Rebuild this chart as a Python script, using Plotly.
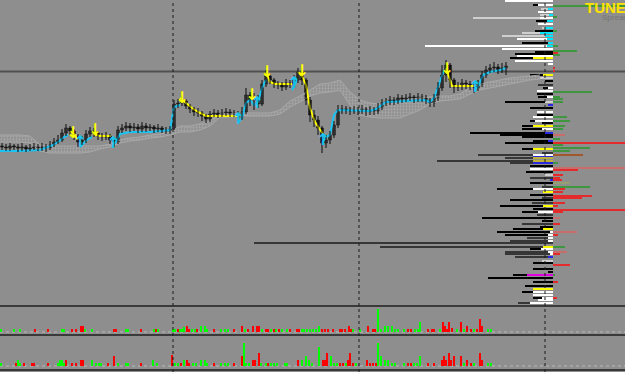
import plotly.graph_objects as go

W, H = 625, 372
BG = "#8e8e8e"

# ---------------- price candles (time index = chart position) ----------------
bar_t = list(range(2, 507, 4))
close = [853, 852, 854, 853, 852, 853, 851, 852, 853, 852,
         853, 852, 855, 858, 860, 867, 872, 869, 864, 858,
         860, 866, 869, 867, 864, 863, 864, 860, 858, 870,
         872, 874, 872, 873, 871, 874, 872, 873, 871, 872,
         870, 869, 871, 896, 897, 899, 894, 891, 888, 887,
         884, 881, 886, 887, 885, 887, 888, 886, 887, 883,
         888, 905, 900, 902, 896, 916, 924, 920, 916, 915,
         913, 917, 916, 920, 928, 920, 900, 885, 880, 872,
         857, 860, 865, 875, 890, 891, 890, 889, 890, 889,
         891, 888, 890, 889, 893, 897, 898, 900, 899, 902,
         901, 902, 903, 901, 903, 902, 900, 897, 902, 912,
         925, 935, 920, 913, 914, 917, 916, 914, 912, 916,
         925, 930, 932, 933, 930, 932, 934]
high = [857, 856, 857, 856, 856, 857, 855, 856, 857, 856,
        857, 856, 859, 862, 865, 871, 876, 874, 871, 866,
        864, 870, 873, 872, 869, 867, 868, 866, 863, 874,
        876, 878, 877, 877, 876, 878, 877, 876, 875, 876,
        874, 873, 874, 900, 901, 904, 901, 896, 893, 892,
        889, 886, 889, 891, 890, 891, 892, 891, 890, 889,
        893, 912, 908, 907, 905, 920, 930, 927, 922, 919,
        918, 921, 920, 925, 932, 930, 922, 903, 890, 884,
        874, 865, 869, 879, 895, 895, 894, 893, 894, 893,
        895, 893, 894, 893, 897, 901, 902, 904, 903, 906,
        905, 906, 907, 905, 907, 906, 905, 902, 906, 918,
        935, 940, 937, 922, 918, 921, 920, 919, 917, 920,
        929, 934, 936, 938, 936, 937, 938]
low = [850, 849, 849, 850, 848, 849, 848, 849, 850, 849,
       849, 848, 850, 853, 856, 858, 864, 865, 860, 853,
       855, 857, 863, 863, 860, 859, 860, 856, 853, 856,
       867, 869, 868, 869, 867, 868, 868, 869, 867, 868,
       867, 866, 866, 870, 892, 894, 891, 887, 884, 883,
       879, 877, 878, 883, 882, 883, 884, 883, 883, 878,
       880, 886, 894, 890, 892, 894, 913, 916, 912, 911,
       909, 910, 912, 913, 917, 915, 895, 878, 873, 865,
       847, 852, 856, 862, 872, 886, 886, 885, 886, 885,
       886, 884, 885, 885, 886, 890, 894, 895, 895, 896,
       897, 898, 899, 897, 898, 898, 896, 893, 893, 899,
       909, 918, 912, 907, 909, 910, 911, 910, 907, 909,
       913, 922, 927, 928, 926, 927, 925]
open_ = [854] + close[:-1]

# ---------------- cloud ----------------
cloud_t = list(range(0, 541, 10))
span_a = [865, 865, 865, 864, 855, 854, 854, 854, 854, 854,
          854, 856, 860, 862, 863, 865, 866, 868, 874, 874,
          876, 879, 886, 886, 887, 887, 887, 887, 890, 899,
          904, 910, 916, 917, 920, 908, 900, 897, 896, 896,
          897, 901, 902, 903, 904, 904, 906, 912, 916, 918,
          920, 922, 923, 924, 925]
span_b = [858, 858, 858, 857, 849, 847, 847, 847, 847, 848,
          851, 853, 857, 859, 860, 862, 863, 865, 868, 868,
          870, 874, 883, 883, 884, 884, 884, 884, 886, 893,
          898, 904, 907, 908, 910, 895, 885, 883, 882, 882,
          882, 886, 890, 896, 899, 900, 901, 906, 910, 912,
          914, 916, 918, 920, 921]

# ---------------- trend line segments (None splits segments) ----------------
cyan_t = [0, 20, 40, 47, 53, 58, 64, 68, None,
          80, 84, 88, 92, None,
          112, 116, 120, 130, 150, 165, 170, 174, 180, None,
          238, 242, 246, 250, 254, 258, 262, 266, None,
          292, 297, None,
          322, 326, 330, 334, 338, 370, 376, 386, 425, 430, 434, 440, 444, None,
          475, 479, 483, 490, 500, 506]
cyan_p = [849, 849, 850, 853, 855, 858, 863, 865, None,
          853, 857, 861, 863, None,
          853, 858, 866, 868, 868, 869, 870, 893, 895, None,
          877, 882, 897, 900, 895, 898, 912, 920, None,
          910, 920, None,
          857, 863, 865, 885, 890, 889, 891, 898, 900, 898, 902, 920, 930, None,
          910, 915, 925, 928, 930, 932]
yel_t = [70, 74, 78, None,
         93, 100, 111, None,
         180, 186, 192, 198, 206, 238, None,
         266, 270, 275, 292, None,
         298, 302, 306, 310, 315, 320, 323, None,
         446, 449, 452, 475]
yel_p = [869, 866, 860, None,
         866, 864, 864, None,
         902, 897, 892, 888, 884, 884, None,
         928, 918, 916, 916, None,
         928, 924, 915, 892, 878, 870, 866, None,
         932, 922, 914, 914]

# ---------------- signal arrows ----------------
dn_t = [73, 95, 182, 252, 267, 302, 447]
dn_p = [866, 869, 901, 904, 927, 928, 930]
up_t = [80, 113, 238, 257, 294, 323, 475]
up_p = [857, 856, 880, 896, 916, 859, 912]

session_t = [173, 359, 545]
bid_price = 928.5

# ---------------- market profile ----------------
prof_price = [999, 995, 991, 988, 985, 982, 979, 976, 972, 969,
              967, 964, 961, 957, 954, 951, 948, 946, 944, 942,
              939, 936, 925, 922, 919, 915, 912, 909, 906, 903,
              898, 895, 892, 888, 885, 883, 879, 877, 874, 871,
              867, 865, 863, 859, 857, 851, 847, 845, 843, 842,
              839, 837, 834, 831, 828, 825, 822, 820, 817, 813,
              811, 808, 805, 802, 800, 797, 794, 791, 788, 785,
              782, 779, 776, 773, 771, 768, 765, 762, 759, 757,
              753, 751, 748, 746, 743, 739, 737, 731, 728, 725,
              722, 718, 714, 711, 708, 705, 702, 700, 697]
prof_vol = [48, 20, 12, 15, 13, 80, 17, 15, 11, 18,
            31, 51, 36, 31, 128, 51, 18, 38, 36, 43,
            38, 5, 23, 13, 8, 15, 10, 16, 16, 15,
            48, 5, 23, 16, 16, 20, 23, 11, 31, 31,
            83, 53, 31, 20, 48, 31, 11, 75, 20, 48,
            116, 43, 23, 23, 27, 8, 23, 3, 23, 11,
            56, 10, 23, 11, 43, 21, 53, 20, 31, 16,
            71, 11, 31, 13, 40, 56, 48, 26, 43, 299,
            173, 23, 48, 48, 38, 11, 20, 20, 5, 40,
            65, 20, 28, 20, 31, 20, 20, 15, 35]
prof_col = list("WKLWLLKWLK" "LLWKWWKKWK" "WWKLKDKWKK" "KBKWKWKKKK" "KKKKKKDDBD"
                "DDKWKLDBKD" "KYKDKDKKKD" "KKDKKKKDDD" "DKDDDLKKKK" "KKKYKWKWD")
prof_in = [0, 15, 5, 0, 4, 13, 6, 0, 8, 0,
           13, 8, 6, 5, 6, 0, 0, 0, 0, 20,
           0, 0, 10, 0, 0, 0, 5, 0, 0, 6,
           8, 0, 0, 0, 0, 0, 18, 0, 20, 11,
           8, 0, 0, 5, 0, 20, 0, 20, 0, 20,
           20, 20, 0, 0, 0, 0, 0, 0, 0, 0,
           20, 0, 0, 0, 0, 0, 10, 0, 15, 0,
           0, 0, 0, 0, 10, 3, 5, 5, 5, 0,
           10, 12, 5, 3, 5, 0, 0, 0, 0, 26,
           0, 0, 0, 0, 20, 0, 11, 0, 23]
prof_incol = list("WWCWCWCWCW" "CCCCCWWWWY" "WWYWWWWWWW" "LWWWWWWWYW" "BWWBWYWWWO"
                  "OBWWWWWWWW" "WWWWWWYWWW" "WWWWYWWWWW" "YWWWBWWWWM" "WWWWWWWWW")

delta_price = [994, 983, 969, 954, 949, 947, 945, 932, 929, 908,
               903, 901, 898, 883, 879, 874, 871, 865, 861, 857,
               855, 852, 849, 845, 837, 832, 830, 825, 822, 820,
               817, 813, 811, 808, 804, 802, 797, 794, 790, 788,
               782, 776, 768, 765, 753, 748, 746, 735, 725, 718,
               702]
delta_len = [72, 4, 4, 5, 24, 5, 7, 2, 2, 39,
             7, 10, 10, 14, 17, 12, 10, 12, 7, 72,
             10, 37, 17, 30, 5, 72, 25, 10, 7, 9,
             17, 37, 12, 10, 39, 29, 12, 5, 72, 10,
             7, 7, 24, 5, 12, 14, 7, 17, 2, 5,
             4]
delta_col = list("GGGGGRGRRG" "GGGGGGGPGR" "GGGNGPRRRR" "QGRRRRRRRR" "PRPRGPRRGR" "R")

# ---------------- volume panels ----------------
vol1_t = [1, 14, 20, 35, 48, 62, 64, 72, 76, 81, 83, 85, 92, 114, 116, 126, 128, 141, 154, 156, 158,
          173, 175, 178, 180, 182, 184, 187, 189, 192, 195, 197, 201, 205, 207, 214, 221, 225, 228, 234,
          242, 245, 248, 253, 257, 259, 262, 266, 268, 271, 274, 276, 279, 282, 287, 290, 297, 299,
          302, 304, 307, 310, 313, 316, 319, 322, 325, 328, 333, 340, 342, 345, 349, 351, 353, 360,
          368, 373, 375, 378, 381, 385, 388, 392, 395, 398, 404, 408, 411, 415, 418, 420, 428, 432, 434,
          440, 443, 445, 447, 449, 452, 457, 461, 464, 467, 471, 474, 477, 480, 482, 488, 491]
vol1_h = [3, 3, 3, 3, 3, 3, 3, 3, 3, 6, 6, 3, 3, 3, 3, 3, 3, 3, 3, 3, 3,
          3, 3, 3, 3, 3, 5, 6, 3, 3, 3, 3, 6, 6, 3, 3, 3, 3, 3, 3,
          6, 3, 3, 6, 6, 6, 3, 3, 3, 3, 3, 3, 3, 3, 3, 3, 3, 3,
          3, 3, 3, 3, 3, 3, 6, 3, 3, 3, 3, 3, 3, 3, 6, 3, 3, 3,
          6, 3, 3, 23, 3, 6, 6, 6, 3, 3, 3, 3, 3, 3, 3, 10, 3, 3, 3,
          3, 10, 6, 3, 10, 4, 3, 10, 3, 6, 3, 3, 3, 13, 6, 3, 3]
vol1_d = list("gggrrggrrrrggrrggrgrg" "ggrgggrrggrgggrgggr" "rgrrrrgrrgrgrggrrr"
              "gggggggrrrrrrrrrgg" "rrrggggggggrrgggrrr" "grrrrrgrgrrgrrrgg")

vol2_t = [1, 16, 18, 20, 24, 32, 34, 48, 58, 60, 62, 64, 66, 72, 76, 81, 83, 92, 96, 99, 101, 108, 114, 118, 126, 128, 141, 153, 157,
          172, 175, 178, 181, 184, 187, 189, 193, 196, 201, 205, 207, 214, 221, 225, 228, 234,
          242, 244, 246, 249, 253, 255, 259, 261, 266, 268, 271, 274, 277, 285, 287, 298,
          302, 306, 309, 312, 319, 323, 325, 327, 331, 334, 337, 340, 343, 346, 348, 350, 353, 356,
          367, 370, 373, 376, 378, 381, 385, 388, 392, 395, 404, 408, 411, 414, 417, 420, 428, 434,
          442, 444, 446, 449, 451, 454, 461, 464, 467, 471, 474, 480, 482, 488, 491]
vol2_h = [3, 3, 6, 3, 3, 3, 3, 3, 3, 6, 6, 3, 6, 3, 3, 6, 6, 6, 3, 3, 3, 3, 10, 3, 3, 3, 3, 6, 3,
          11, 3, 3, 3, 6, 6, 3, 3, 3, 6, 6, 3, 3, 3, 3, 3, 3,
          10, 23, 3, 3, 6, 6, 13, 3, 3, 3, 3, 3, 3, 3, 3, 6,
          6, 10, 6, 3, 19, 6, 6, 13, 10, 3, 3, 3, 3, 3, 6, 13, 3, 3,
          6, 3, 3, 3, 23, 10, 6, 6, 3, 3, 3, 3, 3, 3, 3, 10, 3, 3,
          6, 10, 6, 13, 6, 10, 10, 3, 6, 3, 3, 13, 6, 3, 3]
vol2_d = list("grggrrrrggggrrrrrggggrrgggrgg" "rggrgrrgggggrgggr" "rgggrrrggrgggggr"
              "gggggrrrgggrrgrrrg" "rrrrgggggggrrgggrr" "rrrrrrrgrrgrrgg")

for a, b in [(close, high), (close, low), (close, bar_t), (span_a, cloud_t), (span_b, cloud_t),
             (prof_price, prof_vol), (prof_price, prof_col), (prof_price, prof_in), (prof_price, prof_incol),
             (delta_price, delta_len), (delta_price, delta_col), (vol1_t, vol1_h), (vol1_t, vol1_d),
             (vol2_t, vol2_h), (vol2_t, vol2_d), (cyan_t, cyan_p), (yel_t, yel_p)]:
    assert len(a) == len(b), (len(a), len(b))

# ---------------- styles ----------------
PROFILE_X = 553
PCOL = {"K": "#000000", "D": "#363636", "L": "#cfcfcf", "W": "#ffffff", "C": "#00e6ff",
        "Y": "#ffff00", "B": "#2828e0", "O": "#beb034", "M": "#e000e0"}
DCOL = {"G": "#3e963e", "R": "#e42a2a", "P": "#c86c6c", "N": "#a0582c", "Q": "#94a070"}
VCOL = {"g": "#00ff00", "r": "#ff0000"}

fig = go.Figure()

# cloud
fig.add_trace(go.Scatter(x=cloud_t, y=span_b, mode="lines", line=dict(color="#a8a8a8", width=1),
                         xaxis="x", yaxis="y", hoverinfo="skip"))
fig.add_trace(go.Scatter(x=cloud_t, y=span_a, mode="lines", line=dict(color="#a8a8a8", width=1),
                         fill="tonexty", fillcolor="rgba(0,0,0,0)",
                         fillpattern=dict(shape=".", fgcolor="#bdbdbd", bgcolor="rgba(0,0,0,0)",
                                          size=3, solidity=0.45),
                         xaxis="x", yaxis="y", hoverinfo="skip"))

# trend lines (under the candles)
fig.add_trace(go.Scatter(x=cyan_t, y=cyan_p, mode="lines", line=dict(color="#19c4f2", width=2),
                         connectgaps=False, xaxis="x", yaxis="y", hoverinfo="skip"))
fig.add_trace(go.Scatter(x=yel_t, y=yel_p, mode="lines", line=dict(color="#ffff00", width=2),
                         connectgaps=False, xaxis="x", yaxis="y", hoverinfo="skip"))

# candle wicks
wick_x, wick_y = [], []
for t, h, l in zip(bar_t, high, low):
    wick_x += [t, t, None]
    wick_y += [l, h, None]
fig.add_trace(go.Scatter(x=wick_x, y=wick_y, mode="lines", line=dict(color="#0a0a0a", width=1),
                         connectgaps=False, xaxis="x", yaxis="y", hoverinfo="skip"))
# candle bodies
body_base = [min(o, c) for o, c in zip(open_, close)]
body_len = [max(abs(c - o), 1) for o, c in zip(open_, close)]
body_col = ["#505050" if c >= o else "#1e1e1e" for o, c in zip(open_, close)]
fig.add_trace(go.Bar(x=bar_t, y=body_len, base=body_base, width=3,
                     marker=dict(color=body_col, line=dict(color="#101010", width=0.5)),
                     xaxis="x", yaxis="y", hoverinfo="skip"))

# arrows
fig.add_trace(go.Scatter(x=dn_t, y=dn_p, mode="text", text=["↓"] * len(dn_t),
                         textfont=dict(color="#ffff00", size=16, family="DejaVu Sans", weight="bold"),
                         xaxis="x", yaxis="y", hoverinfo="skip"))
fig.add_trace(go.Scatter(x=up_t, y=up_p, mode="text", text=["↑"] * len(up_t),
                         textfont=dict(color="#19c4f2", size=16, family="DejaVu Sans", weight="bold"),
                         xaxis="x", yaxis="y", hoverinfo="skip"))

# profile: outer, inner, delta
fig.add_trace(go.Bar(orientation="h", y=prof_price, x=prof_vol,
                     base=[PROFILE_X - v for v in prof_vol], width=2,
                     marker=dict(color=[PCOL[c] for c in prof_col], line=dict(width=0)),
                     xaxis="x", yaxis="y", hoverinfo="skip"))
fig.add_trace(go.Bar(orientation="h", y=prof_price, x=prof_in,
                     base=[PROFILE_X - v for v in prof_in], width=2,
                     marker=dict(color=[PCOL[c] for c in prof_incol], line=dict(width=0)),
                     xaxis="x", yaxis="y", hoverinfo="skip"))
fig.add_trace(go.Bar(orientation="h", y=delta_price, x=delta_len, base=PROFILE_X, width=2,
                     marker=dict(color=[DCOL[c] for c in delta_col], line=dict(width=0)),
                     xaxis="x", yaxis="y", hoverinfo="skip"))

# volumes
fig.add_trace(go.Bar(x=vol1_t, y=vol1_h, width=2.5,
                     marker=dict(color=[VCOL[c] for c in vol1_d], line=dict(width=0)),
                     xaxis="x2", yaxis="y2", hoverinfo="skip"))
fig.add_trace(go.Bar(x=vol2_t, y=vol2_h, width=2.5,
                     marker=dict(color=[VCOL[c] for c in vol2_d], line=dict(width=0)),
                     xaxis="x3", yaxis="y3", hoverinfo="skip"))

shapes = []
shapes.append(dict(type="line", xref="paper", x0=0, x1=1, yref="y", y0=bid_price, y1=bid_price,
                   line=dict(color="#505050", width=2), layer="below"))
for yr in ["y2", "y3"]:
    shapes.append(dict(type="line", xref="paper", x0=0, x1=1, yref=yr, y0=0, y1=0,
                       line=dict(color="#ababab", width=1.5, dash="dot"), layer="below"))
for t in session_t:
    shapes.append(dict(type="line", xref="x", x0=t, x1=t, yref="paper", y0=0, y1=1,
                       line=dict(color="#1a1a1a", width=1, dash="dot"), layer="above"))

axis_x = dict(range=[0, W], showticklabels=False, showgrid=False, zeroline=False, ticks="",
              showline=True, linecolor="#3a3a3a", linewidth=2, fixedrange=True)
axis_y = dict(showticklabels=False, showgrid=False, zeroline=False, ticks="", fixedrange=True)

fig.update_layout(
    width=W, height=H, margin=dict(l=0, r=0, t=0, b=0),
    paper_bgcolor=BG, plot_bgcolor=BG, showlegend=False,
    barmode="overlay", bargap=0,
    xaxis=dict(axis_x, anchor="y"),
    xaxis2=dict(axis_x, anchor="y2"),
    xaxis3=dict(axis_x, anchor="y3"),
    yaxis=dict(axis_y, domain=[67 / H, 1], range=[695, 1000]),
    yaxis2=dict(axis_y, domain=[38 / H, 64 / H], range=[-2, 24]),
    yaxis3=dict(axis_y, domain=[3 / H, 36 / H], range=[-3, 30]),
    shapes=shapes,
    annotations=[
        dict(text="<b>TUNEL</b>", xref="paper", yref="paper", x=583 / W, y=1, xanchor="left",
             yanchor="top", yshift=3, showarrow=False,
             font=dict(family="Liberation Sans", size=15, color="#ffe200")),
        dict(text="Spread: 1.2", xref="paper", yref="paper", x=600 / W, y=1 - 11 / H, xanchor="left",
             yanchor="top", showarrow=False,
             font=dict(family="Liberation Sans", size=8, color="#757575")),
    ],
)

fig.write_html("out.html", config={"displayModeBar": False, "staticPlot": True})
